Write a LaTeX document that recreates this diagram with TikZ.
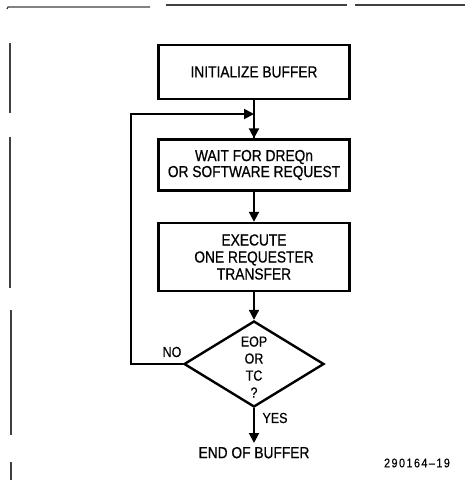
\documentclass[tikz,border=0pt]{standalone}
\usepackage{fontspec}
\setmainfont[FakeStretch=0.86,FakeBold=0.6]{Liberation Sans}
\usetikzlibrary{shapes.geometric,arrows.meta}
\begin{document}
\begin{tikzpicture}[x=1pt,y=-1pt,
  box/.style={draw,line width=2.4pt,minimum width=191pt,inner sep=0pt,align=center,font=\fontsize{16}{16}\selectfont},
  conn/.style={line width=2pt,-{Triangle[length=10pt,width=10pt]}},
  lbl/.style={font=\fontsize{14.5}{17}\selectfont,inner sep=0pt,align=center},
  txt/.style={font=\fontsize{16}{16}\selectfont},
  frame/.style={line width=1.2pt,draw=black!75}]
\useasboundingbox (0,0) rectangle (465,480);
% page rules
\draw[frame] (7,9) -- (8,7) -- (150,7);
\draw[frame] (166,5) -- (347,5);
\draw[frame] (355,5) -- (465,5);
\draw[frame] (10,43) -- (10,113);
\draw[frame] (10,137) -- (10,288);
\draw[frame] (11,310) -- (11,435);
\draw[frame] (11,462) -- (11,480);
% nodes
\node[box,minimum height=54pt] (b1) at (254,72) {INITIALIZE BUFFER};
\node[box,minimum height=51pt] (b2) at (254,165) {WAIT FOR DREQn\\OR SOFTWARE REQUEST};
\node[box,minimum height=68pt,font=\fontsize{16}{17}\selectfont] (b3) at (254,257) {EXECUTE\\ONE REQUESTER\\TRANSFER};
\node[draw,diamond,line width=2.4pt,minimum width=140pt,minimum height=86pt,inner sep=0pt] (dia) at (254,364) {};
\node[lbl] (dtext) at (254,367) {EOP\\OR\\TC\\?};
\node[txt,anchor=north,inner sep=0pt,outer sep=4pt] (end) at (254,443) {END OF BUFFER};
\node[lbl] (no) at (172,352) {NO};
\node[lbl] (yes) at (275,418) {YES};
\node[inner sep=0pt,font=\fontsize{12.5}{13}\selectfont\addfontfeature{LetterSpace=12}] (code) at (417,463) {290164--19};
\coordinate (join) at (254,114);
% connectors
\draw[line width=2pt] (b1.south) -- (b2.north);
\draw[conn] (join) -- (b2.north);
\draw[conn] (dia.west) -- ++(-52,0) |- (join);
\draw[conn] (b2.south) -- (b3.north);
\draw[conn] (b3.south) -- (dia.north);
\draw[conn] (dia.south) -- (end.north);
\end{tikzpicture}
\end{document}
